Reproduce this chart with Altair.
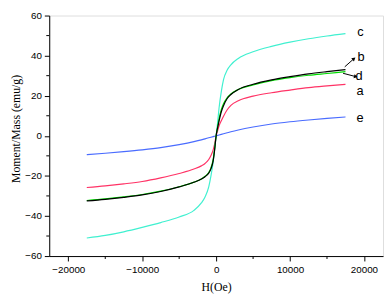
import altair as alt
import pandas as pd

# Field (Oe)
H = [-17500, -15000, -12500, -10000, -7500, -5000, -3000, -2000, -1500, -1000, -700, -400, -200,
     0, 200, 400, 700, 1000, 1500, 2000, 3000, 5000, 7500, 10000, 12500, 15000, 17500]

# Moment/Mass (emu/g) for each sample
curve_a = [-25.8, -25.0, -24.0, -22.8, -21.0, -18.8, -16.6, -15.0, -13.8, -11.8, -9.8, -7.0, -4.0,
           0.0, 2.5, 5.0, 7.5, 9.8, 13.0, 15.2, 17.5, 19.8, 21.5, 22.8, 24.0, 24.9, 25.7]
curve_b = [-32.5, -31.7, -30.7, -29.5, -27.8, -25.5, -23.2, -21.6, -20.4, -18.6, -16.5, -12.5, -7.0,
           0.0, 4.0, 7.5, 12.0, 15.0, 18.6, 20.6, 23.1, 25.7, 27.9, 29.5, 30.9, 32.0, 33.0]
curve_c = [-51.0, -49.7, -47.9, -45.7, -43.3, -40.5, -37.2, -33.5, -30.5, -25.5, -20.0, -13.0, -6.5,
           0.0, 6.5, 14.0, 22.0, 28.0, 32.8, 35.4, 38.6, 41.9, 44.6, 46.7, 48.4, 49.8, 51.0]
curve_d = [-32.3, -31.5, -30.5, -29.3, -27.6, -25.4, -23.1, -21.5, -20.2, -18.3, -16.0, -11.8, -6.5,
           0.0, 4.5, 8.5, 13.0, 16.0, 19.0, 20.9, 23.1, 25.4, 27.5, 29.0, 30.2, 31.1, 32.0]
curve_e = [-9.4, -8.7, -7.9, -7.0, -5.9, -4.4, -2.9, -2.0, -1.5, -1.0, -0.7, -0.4, -0.2,
           0.0, 0.2, 0.4, 0.7, 1.0, 1.5, 2.0, 2.9, 4.4, 5.9, 7.0, 7.9, 8.7, 9.4]

series_names = ["e", "a", "c", "d", "b"]
series_values = {"a": curve_a, "b": curve_b, "c": curve_c, "d": curve_d, "e": curve_e}
series_colors = {"a": "#ff3366", "b": "#000000", "c": "#40f0d0", "d": "#00dd00", "e": "#4a6cff"}

# Labels
label_text = ["c", "b", "d", "a", "e"]
label_H = [19520, 19620, 19350, 19480, 19480]
label_M = [52.0, 39.4, 29.9, 22.4, 8.6]

# Arrows (b and d)
arrow_id = ["b", "b", "d", "d"]
arrow_H = [17400, 18590, 17170, 18820]
arrow_M = [34.4, 38.3, 31.2, 29.6]
head_H = [18590, 18820]
head_M = [38.3, 29.6]
head_angle = [50, 105]

x_major = [-20000, -10000, 0, 10000, 20000]
x_minor = [-15000, -5000, 5000, 15000]
y_major = [-60, -40, -20, 0, 20, 40, 60]
y_minor = [-50, -30, -10, 10, 30, 50]

W, HGT = 340, 245

rows = []
for order, name in enumerate(series_names):
    for h, m in zip(H, series_values[name]):
        rows.append({"H": h, "M": m, "s": name, "o": order})
df = pd.DataFrame(rows)

xscale = alt.Scale(domain=[-22580, 22580], nice=False, zero=False)
yscale = alt.Scale(domain=[-60, 60], nice=False, zero=False)

xaxis = alt.Axis(values=x_major, format="d", grid=False, tickSize=5, tickColor="black",
                 domainColor="black", labelFont="Liberation Sans", labelFontSize=10,
                 labelColor="black", labelPadding=4, title="H(Oe)", titleFont="Liberation Serif",
                 titleFontSize=12, titleFontWeight="normal", titleColor="black",
                 titleY=31, titleBaseline="middle", labelFlush=False)
yaxis = alt.Axis(values=y_major, format="d", grid=False, tickSize=5, tickColor="black",
                 domainColor="black", labelFont="Liberation Sans", labelFontSize=10,
                 labelColor="black", labelPadding=3, title="Moment/Mass (emu/g)",
                 titleFont="Liberation Serif", titleFontSize=12, titleFontWeight="normal",
                 titleColor="black", titleX=-34, titleY=115, titleBaseline="middle",
                 labelFlush=False)

lines = []
for name in series_names:
    sub = df[df.s == name]
    lines.append(
        alt.Chart(sub).mark_line(interpolate="monotone", strokeWidth=1.2, color=series_colors[name]).encode(
            x=alt.X("H:Q", scale=xscale, axis=xaxis),
            y=alt.Y("M:Q", scale=yscale, axis=yaxis),
        )
    )

labels = alt.Chart(pd.DataFrame({"t": label_text, "H": label_H, "M": label_M})).mark_text(
    font="Liberation Sans", fontSize=13, color="black", align="center", baseline="middle"
).encode(x=alt.X("H:Q", scale=xscale), y=alt.Y("M:Q", scale=yscale), text="t:N")

arrows = alt.Chart(pd.DataFrame({"id": arrow_id, "H": arrow_H, "M": arrow_M})).mark_line(
    color="black", strokeWidth=1
).encode(x=alt.X("H:Q", scale=xscale), y=alt.Y("M:Q", scale=yscale), detail="id:N")

heads = alt.Chart(pd.DataFrame({"H": head_H, "M": head_M, "a": head_angle})).mark_point(
    shape="triangle", filled=True, color="black", size=18, opacity=1
).encode(x=alt.X("H:Q", scale=xscale), y=alt.Y("M:Q", scale=yscale), angle=alt.Angle("a:Q", scale=None))

xminor = alt.Chart(pd.DataFrame({"H": x_minor})).mark_rule(color="black", strokeWidth=1).encode(
    x=alt.X("H:Q", scale=xscale), y=alt.value(HGT), y2=alt.value(HGT + 3)
)
yminor = alt.Chart(pd.DataFrame({"M": y_minor})).mark_rule(color="black", strokeWidth=1).encode(
    y=alt.Y("M:Q", scale=yscale), x=alt.value(0), x2=alt.value(-3)
)

chart = alt.layer(*lines, arrows, heads, labels, xminor, yminor).properties(
    width=W, height=HGT,
    autosize=alt.AutoSizeParams(type="none"),
    padding={"left": 42, "top": 5, "right": 1, "bottom": 38},
).configure_view(stroke="black", strokeWidth=1).configure(background="white")

chart.save("out.html", embed_options={"renderer": "svg", "actions": False})
